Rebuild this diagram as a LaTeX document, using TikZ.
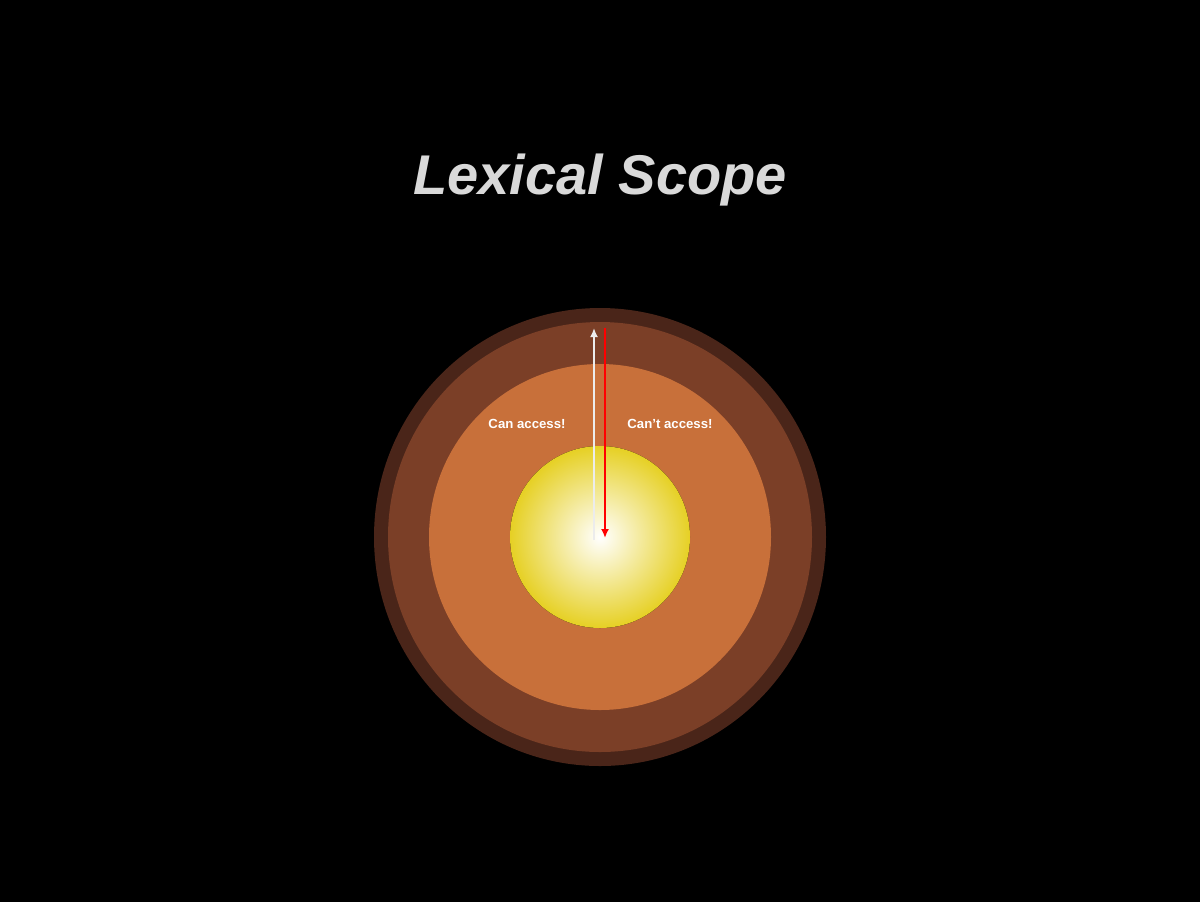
\documentclass[tikz,border=0pt]{standalone}
\usepackage{fontspec}
\setmainfont{Liberation Sans}
\begin{document}
\begin{tikzpicture}[x=0.5pt,y=-0.5pt,
  lbl/.style={text=white,font=\bfseries\fontsize{6.6}{8}\selectfont},
  arr/.style={line width=1pt,-{Latex[length=4.5pt,width=4pt]}}]
\usetikzlibrary{arrows.meta}
\fill[black] (0,0) rectangle (1200,902);
\useasboundingbox (0,0) rectangle (1200,902);
\definecolor{c1}{HTML}{4A2519}
\definecolor{c2}{HTML}{7B3F27}
\definecolor{c3}{HTML}{C8703A}
\definecolor{c4}{HTML}{E6D024}
\node[font=\bfseries\itshape\fontsize{28}{32}\selectfont,text=black!15] (title) at (600,180) {Lexical Scope};
\fill[c1] (600,537) ellipse [x radius=226, y radius=229];
\fill[c2] (600,537) ellipse [x radius=212, y radius=215];
\fill[c3] (600,537) ellipse [x radius=171, y radius=173];
\fill[inner color=white,outer color=c4] (600,537) ellipse [x radius=90, y radius=91];
\coordinate (wb) at (594,540); \coordinate (wt) at (594,328);
\coordinate (rt) at (605,328); \coordinate (rb) at (605,538);
\draw[arr,white!85!gray] (wb) -- (wt);
\draw[arr,red] (rt) -- (rb);
\node[lbl] (can) at (527,424) {Can access!};
\node[lbl] (cant) at (670,424) {Can't access!};
\end{tikzpicture}
\end{document}
